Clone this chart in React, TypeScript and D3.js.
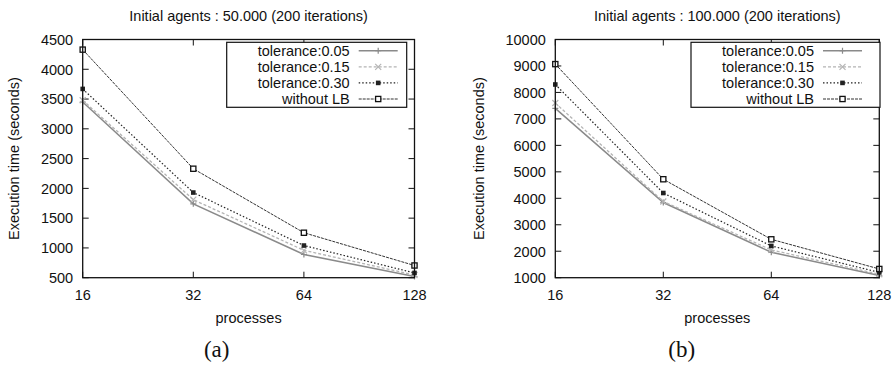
import React from "react";
import * as d3 from "d3";

// x values (log2 axis)
const processes = [16, 32, 64, 128];
const seriesNames = ["tolerance:0.05", "tolerance:0.15", "tolerance:0.30", "without LB"];

// panel (a): 50.000 agents
const timesA_tol005 = [3450, 1740, 890, 520];
const timesA_tol015 = [3480, 1810, 960, 545];
const timesA_tol030 = [3670, 1930, 1040, 580];
const timesA_noLB = [4330, 2330, 1255, 705];
const yTicksA = [500, 1000, 1500, 2000, 2500, 3000, 3500, 4000, 4500];

// panel (b): 100.000 agents
const timesB_tol005 = [7400, 3840, 1960, 1080];
const timesB_tol015 = [7600, 3880, 2050, 1130];
const timesB_tol030 = [8300, 4200, 2200, 1200];
const timesB_noLB = [9070, 4720, 2450, 1330];
const yTicksB = [1000, 2000, 3000, 4000, 5000, 6000, 7000, 8000, 9000, 10000];

const xTickLabels = ["16", "32", "64", "128"];

const FONT = "'Liberation Sans', Arial, Helvetica, sans-serif";

// gnuplot-ish line styles
const styles = [
  { stroke: "#8a8a8a", width: 1.5, dash: "none", marker: "plus" },
  { stroke: "#b4b4b4", width: 1.3, dash: "3,2", marker: "cross" },
  { stroke: "#222", width: 1.2, dash: "1.5,2", marker: "fsquare" },
  { stroke: "#333", width: 1, dash: "3,1", marker: "osquare" },
];

function Marker({ kind, cx, cy, color }: { kind: string; cx: number; cy: number; color: string }) {
  const s = 3;
  if (kind === "plus")
    return <path d={`M${cx - s},${cy}H${cx + s}M${cx},${cy - s}V${cy + s}`} stroke={color} strokeWidth={1.2} />;
  if (kind === "cross")
    return (
      <path
        d={`M${cx - s},${cy - s}L${cx + s},${cy + s}M${cx - s},${cy + s}L${cx + s},${cy - s}`}
        stroke={color}
        strokeWidth={1.2}
      />
    );
  if (kind === "fsquare")
    return <rect x={cx - 2.3} y={cy - 2.3} width={4.6} height={4.6} fill={color} />;
  return <rect x={cx - 2.6} y={cy - 2.6} width={5.2} height={5.2} fill="white" stroke="#111" strokeWidth={1.3} />;
}

type PanelProps = {
  x0: number;
  x1: number;
  y0: number;
  y1: number;
  domain: [number, number];
  ticks: number[];
  series: number[][];
  title: string;
  caption: string;
  captionX: number;
  legendLeft: number;
  legendRight: number;
  labelX: number;
};

function Panel(p: PanelProps) {
  const x = d3.scaleLog().base(2).domain([16, 128]).range([p.x0, p.x1]);
  const y = d3.scaleLinear().domain(p.domain).range([p.y1, p.y0]);
  const line = d3
    .line<number>()
    .x((_, i) => x(processes[i]))
    .y((d) => y(d));
  const cx = (p.x0 + p.x1) / 2;
  const tick = 6;
  const textRight = p.legendLeft + 123;

  return (
    <g fontFamily={FONT} fontSize={14.5} fill="#111">
      <text x={cx} y={21} textAnchor="middle">
        {p.title}
      </text>

      {/* ticks, mirrored on all sides */}
      {p.ticks.map((t) => (
        <g key={"y" + t}>
          <line x1={p.x0} x2={p.x0 + tick} y1={y(t)} y2={y(t)} stroke="#111" />
          <line x1={p.x1} x2={p.x1 - tick} y1={y(t)} y2={y(t)} stroke="#111" />
          <text x={p.x0 - 9.5} y={y(t) + 5.3} textAnchor="end">
            {t}
          </text>
        </g>
      ))}
      {processes.map((v, i) => (
        <g key={"x" + v}>
          <line x1={x(v)} x2={x(v)} y1={p.y1} y2={p.y1 - tick} stroke="#111" />
          <line x1={x(v)} x2={x(v)} y1={p.y0} y2={p.y0 + tick} stroke="#111" />
          <text x={x(v)} y={p.y1 + 22.5} textAnchor="middle">
            {xTickLabels[i]}
          </text>
        </g>
      ))}

      <text x={cx} y={p.y1 + 45.5} textAnchor="middle">
        processes
      </text>
      <text
        transform={`translate(${p.labelX},${(p.y0 + p.y1) / 2}) rotate(-90)`}
        textAnchor="middle"
      >
        Execution time (seconds)
      </text>

      {/* series */}
      {p.series.map((vals, si) => {
        const st = styles[si];
        return (
          <g key={"s" + si}>
            <path d={line(vals) || ""} fill="none" stroke={st.stroke} strokeWidth={st.width} strokeDasharray={st.dash} />
            {vals.map((v, i) => (
              <Marker key={i} kind={st.marker} cx={x(processes[i])} cy={y(v)} color={st.stroke} />
            ))}
          </g>
        );
      })}

      <rect x={p.x0} y={p.y0} width={p.x1 - p.x0} height={p.y1 - p.y0} fill="none" stroke="#111" strokeWidth={1.3} />

      {/* legend */}
      <rect
        x={p.legendLeft}
        y={p.y0 + 2.8}
        width={p.legendRight - p.legendLeft}
        height={65}
        fill="white"
        stroke="#111"
        strokeWidth={1.2}
      />
      {seriesNames.map((name, i) => {
        const st = styles[i];
        const ly = p.y0 + 11.2 + 16.1 * i;
        return (
          <g key={"l" + name}>
            <text x={textRight} y={ly + 5.2} textAnchor="end">
              {name}
            </text>
            <line
              x1={textRight + 9}
              x2={textRight + 48}
              y1={ly}
              y2={ly}
              stroke={st.stroke}
              strokeWidth={st.width}
              strokeDasharray={st.dash}
            />
            <Marker kind={st.marker} cx={textRight + 28.5} cy={ly} color={st.stroke} />
          </g>
        );
      })}

      <text x={p.captionX} y={357} textAnchor="middle" fontFamily="'Liberation Serif', 'DejaVu Serif', serif" fontSize={23}>
        {p.caption}
      </text>
    </g>
  );
}

export default function App() {
  return (
    <svg
      width={896}
      height={367}
      style={{ position: "fixed", left: 0, top: 0, background: "white" }}
    >
      <Panel
        x0={82.7}
        x1={414.5}
        y0={39.5}
        y1={277.7}
        domain={[500, 4500]}
        ticks={yTicksA}
        series={[timesA_tol005, timesA_tol015, timesA_tol030, timesA_noLB]}
        title="Initial agents : 50.000 (200 iterations)"
        caption="(a)"
        captionX={216.7}
        legendLeft={226.7}
        legendRight={406.7}
        labelX={18.5}
      />
      <Panel
        x0={555.3}
        x1={879.3}
        y0={39.5}
        y1={277.7}
        domain={[1000, 10000]}
        ticks={yTicksB}
        series={[timesB_tol005, timesB_tol015, timesB_tol030, timesB_noLB]}
        title="Initial agents : 100.000 (200 iterations)"
        caption="(b)"
        captionX={681.7}
        legendLeft={691}
        legendRight={880}
        labelX={483.5}
      />
    </svg>
  );
}
